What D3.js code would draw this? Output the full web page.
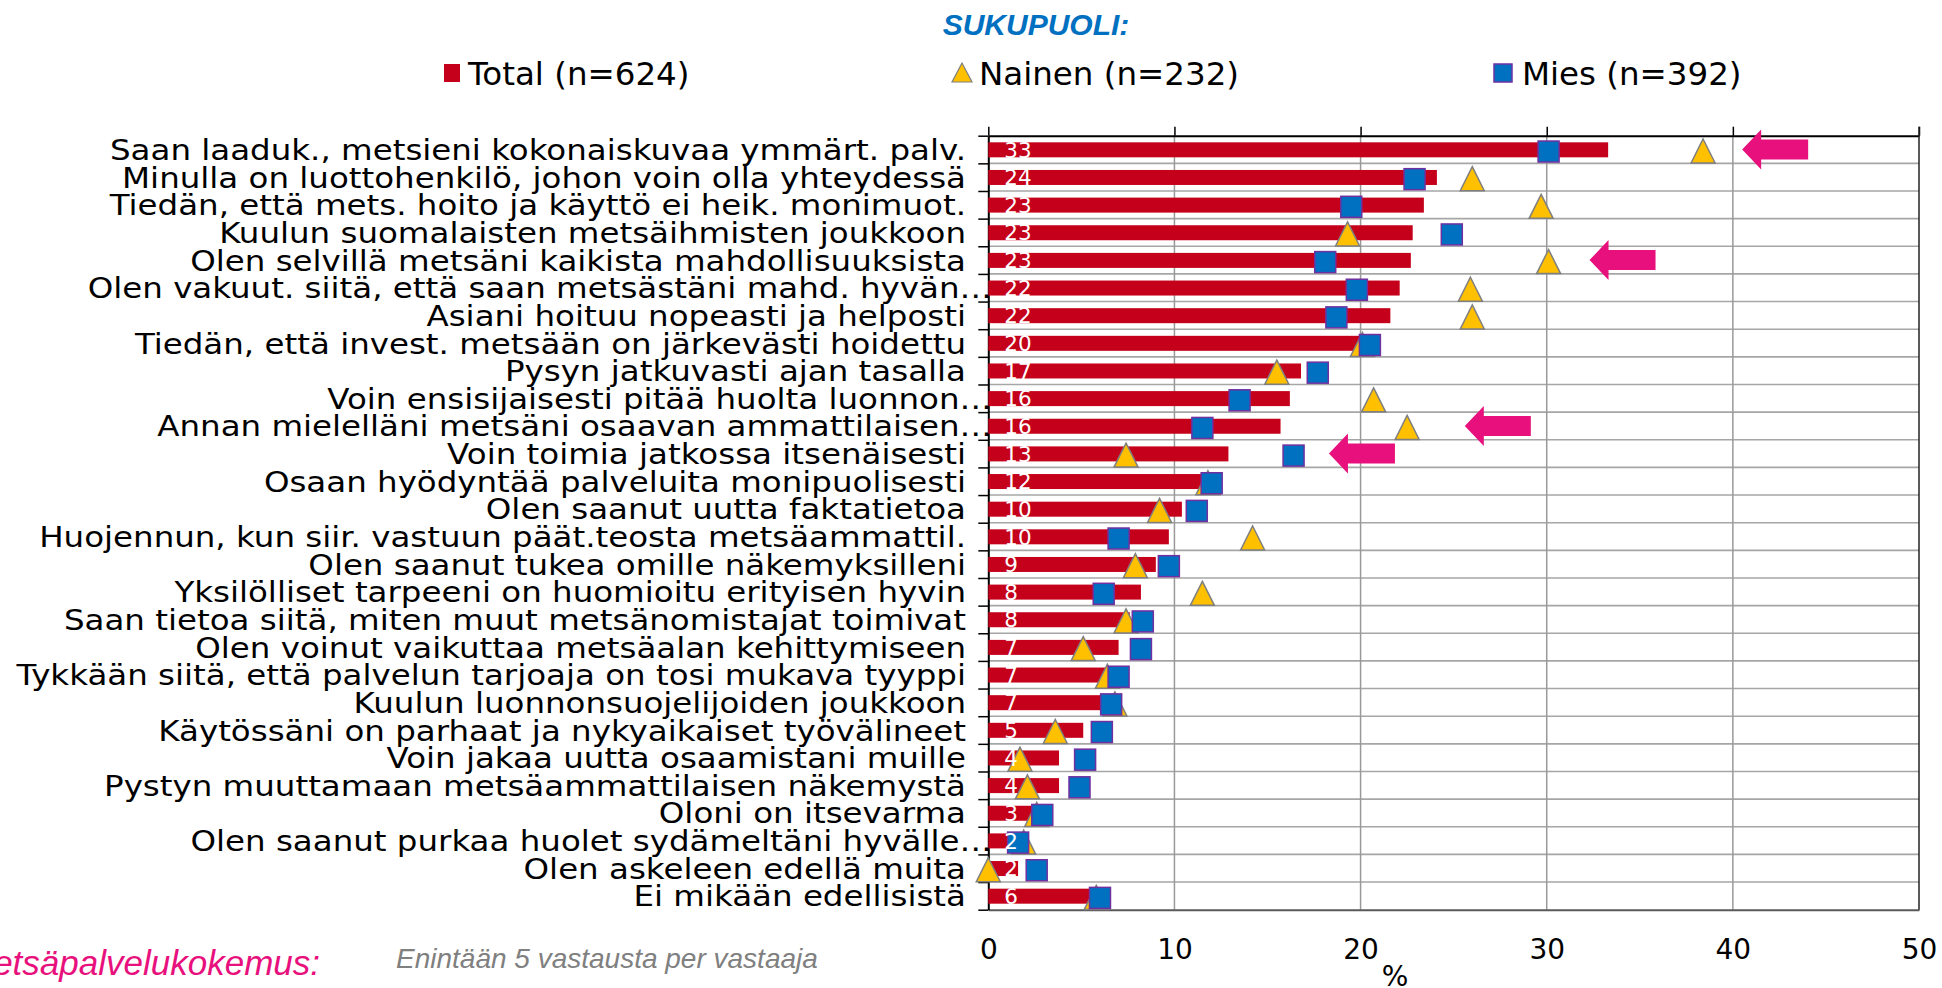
<!DOCTYPE html>
<html lang="fi">
<head>
<meta charset="utf-8">
<title>Sukupuoli</title>
<script src="https://cdn.jsdelivr.net/npm/d3@7"></script>
<style>
  body { margin: 0; background: #fff; }
  text { font-family: Verdana, "DejaVu Sans", sans-serif; }
</style>
</head>
<body>
<script>
// categories top to bottom
var categories = [
  "Saan laaduk., metsieni kokonaiskuvaa ymmärt. palv.",
  "Minulla on luottohenkilö, johon voin olla yhteydessä",
  "Tiedän, että mets. hoito ja käyttö ei heik. monimuot.",
  "Kuulun suomalaisten metsäihmisten joukkoon",
  "Olen selvillä metsäni kaikista mahdollisuuksista",
  "Olen vakuut. siitä, että saan metsästäni mahd. hyvän…",
  "Asiani hoituu nopeasti ja helposti",
  "Tiedän, että invest. metsään on järkevästi hoidettu",
  "Pysyn jatkuvasti ajan tasalla",
  "Voin ensisijaisesti pitää huolta luonnon…",
  "Annan mielelläni metsäni osaavan ammattilaisen…",
  "Voin toimia jatkossa itsenäisesti",
  "Osaan hyödyntää palveluita monipuolisesti",
  "Olen saanut uutta faktatietoa",
  "Huojennun, kun siir. vastuun päät.teosta metsäammattil.",
  "Olen saanut tukea omille näkemyksilleni",
  "Yksilölliset tarpeeni on huomioitu erityisen hyvin",
  "Saan tietoa siitä, miten muut metsänomistajat toimivat",
  "Olen voinut vaikuttaa metsäalan kehittymiseen",
  "Tykkään siitä, että palvelun tarjoaja on tosi mukava tyyppi",
  "Kuulun luonnonsuojelijoiden joukkoon",
  "Käytössäni on parhaat ja nykyaikaiset työvälineet",
  "Voin jakaa uutta osaamistani muille",
  "Pystyn muuttamaan metsäammattilaisen näkemystä",
  "Oloni on itsevarma",
  "Olen saanut purkaa huolet sydämeltäni hyvälle…",
  "Olen askeleen edellä muita",
  "Ei mikään edellisistä"
];

// Total (n=624), %
var total = [33.3, 24.1, 23.4, 22.8, 22.7, 22.1, 21.6, 20.0, 16.8, 16.2, 15.7, 12.9, 11.6, 10.4,
             9.7, 9.0, 8.2, 7.6, 7.0, 6.7, 6.6, 5.1, 3.8, 3.8, 2.6, 1.9, 1.6, 5.6];
// Nainen (n=232), %
var nainen = [38.4, 26.0, 29.7, 19.3, 30.1, 25.9, 26.0, 20.1, 15.5, 20.7, 22.5, 7.4, 11.8, 9.2,
              14.2, 7.9, 11.5, 7.4, 5.1, 6.4, 6.8, 3.6, 1.7, 2.1, 2.6, 1.9, 0.0, 5.8];
// Mies (n=392), %
var mies = [30.1, 22.9, 19.5, 24.9, 18.1, 19.8, 18.7, 20.5, 17.7, 13.5, 11.5, 16.4, 12.0, 11.2,
            7.0, 9.7, 6.2, 8.3, 8.2, 7.0, 6.6, 6.1, 5.2, 4.9, 2.9, 1.6, 2.6, 6.0];

var xTicks = [0, 10, 20, 30, 40, 50];
var legendLabels = ["Total (n=624)", "Nainen (n=232)", "Mies (n=392)"];

// highlight arrows: row index and the value where the arrow tip points
var arrowRows = [0, 4, 10, 11];
var arrowTips = [40.5, 32.3, 25.6, 18.3];

var w = 1942, h = 988;
var red = "#c5001a", gold = "#ffc000", blue = "#0070c0", pink = "#e8107c";

var svg = d3.select("body").append("svg").attr("width", w).attr("height", h);

var x = d3.scaleLinear().domain([0, 50]).range([988.3, 1919]);
var y = d3.scaleBand().domain(d3.range(categories.length)).range([135.7, 909.7]);
var yEdge = d3.scaleLinear().domain([0, categories.length]).range([135.7, 909.7]);
var plotTop = yEdge(0), plotBottom = yEdge(categories.length);

// horizontal gridlines between rows
svg.append("g").selectAll("line")
  .data(d3.range(1, categories.length))
  .enter().append("line")
  .attr("x1", x(0)).attr("x2", x(50))
  .attr("y1", d => yEdge(d)).attr("y2", d => yEdge(d))
  .attr("stroke", "#a6a6a6").attr("stroke-width", 1.6);

// vertical gridlines
svg.append("g").selectAll("line")
  .data(xTicks.slice(1, -1))
  .enter().append("line")
  .attr("x1", d => x(d)).attr("x2", d => x(d))
  .attr("y1", plotTop).attr("y2", plotBottom)
  .attr("stroke", "#999").attr("stroke-width", 1.5);

// top axis (ticks up, no labels)
var topAxis = svg.append("g").attr("transform", "translate(0," + plotTop + ")")
  .call(d3.axisTop(x).tickValues(xTicks).tickSize(9).tickSizeOuter(0).tickFormat(""));
topAxis.select(".domain").attr("stroke", "#000").attr("stroke-width", 2);
topAxis.selectAll(".tick line").attr("stroke", "#000").attr("stroke-width", 1.5);

// bottom axis labels
var botAxis = svg.append("g").attr("transform", "translate(0," + plotBottom + ")")
  .call(d3.axisBottom(x).tickValues(xTicks).tickSize(0).tickPadding(29));
botAxis.select(".domain").attr("stroke", "#595959").attr("stroke-width", 2);
botAxis.selectAll("text").attr("font-size", 28).attr("fill", "#000")
  .style("font-family", "Verdana, 'DejaVu Sans', sans-serif");

// right border
svg.append("line").attr("x1", x(50)).attr("x2", x(50)).attr("y1", plotTop - 9).attr("y2", plotBottom)
  .attr("stroke", "#222").attr("stroke-width", 1.5);

// left axis with ticks at row edges
var leftAxis = svg.append("g").attr("transform", "translate(" + x(0) + ",0)")
  .call(d3.axisLeft(yEdge).tickValues(d3.range(categories.length + 1)).tickSize(10).tickSizeOuter(0).tickFormat(""));
leftAxis.select(".domain").attr("stroke", "#000").attr("stroke-width", 2);
leftAxis.selectAll(".tick line").attr("stroke", "#000").attr("stroke-width", 1.5);

// category labels
svg.append("g").selectAll("text")
  .data(categories)
  .enter().append("text")
  .attr("transform", (d, i) => "translate(" + (d.endsWith("…") ? 992 : 966) + "," + (y(i) + y.bandwidth() / 2 + 10.5) + ") scale(1.16,1)")
  .attr("text-anchor", "end")
  .attr("font-size", 28)
  .attr("fill", "#000")
  .text(d => d);

// Total bars
var barH = 15;
svg.append("g").selectAll("rect")
  .data(total)
  .enter().append("rect")
  .attr("x", x(0))
  .attr("y", (d, i) => y(i) + y.bandwidth() / 2 - barH / 2 + 0.3)
  .attr("width", d => x(d) - x(0))
  .attr("height", barH)
  .attr("fill", red);

// Nainen triangles
var tr = 12;
svg.append("g").selectAll("path")
  .data(nainen)
  .enter().append("path")
  .attr("d", (d, i) => {
    var cx = x(d), cy = y(i) + y.bandwidth() / 2 + 1.5;
    return "M" + cx + "," + (cy - tr) + "L" + (cx + tr) + "," + (cy + tr) + "L" + (cx - tr) + "," + (cy + tr) + "Z";
  })
  .attr("fill", gold).attr("stroke", "#7f7f7f").attr("stroke-width", 1.5);

// Mies squares
var sq = 21;
svg.append("g").selectAll("rect")
  .data(mies)
  .enter().append("rect")
  .attr("x", d => x(d) - sq / 2)
  .attr("y", (d, i) => y(i) + y.bandwidth() / 2 - sq / 2 + 2)
  .attr("width", sq).attr("height", sq)
  .attr("fill", blue).attr("stroke", "#7030a0").attr("stroke-width", 1.5);

// value labels for total
svg.append("g").selectAll("text")
  .data(total)
  .enter().append("text")
  .attr("x", x(0) + 16)
  .attr("y", (d, i) => y(i) + y.bandwidth() / 2 + 8)
  .attr("font-size", 21.5)
  .attr("fill", "#fff")
  .text(d => Math.round(d));

// pink arrows
svg.append("g").selectAll("path")
  .data(arrowRows)
  .enter().append("path")
  .attr("d", (r, i) => {
    var tx = x(arrowTips[i]), cy = y(r) + y.bandwidth() / 2;
    return "M" + tx + "," + cy +
      "L" + (tx + 19) + "," + (cy - 20) +
      "L" + (tx + 19) + "," + (cy - 10) +
      "L" + (tx + 66) + "," + (cy - 10) +
      "L" + (tx + 66) + "," + (cy + 10) +
      "L" + (tx + 19) + "," + (cy + 10) +
      "L" + (tx + 19) + "," + (cy + 20) + "Z";
  })
  .attr("fill", pink);

// "%" axis title
svg.append("text").attr("x", 1395).attr("y", 986).attr("text-anchor", "middle")
  .attr("font-size", 28).attr("fill", "#000").text("%");

// title
svg.append("text").attr("x", 1036).attr("y", 35).attr("text-anchor", "middle")
  .style("font-family", "'Liberation Sans', Arial, sans-serif")
  .attr("font-size", 30).attr("font-weight", "bold").attr("font-style", "italic")
  .attr("fill", blue).text("SUKUPUOLI:");

// legend
var legendX = [468, 979, 1522];
var legend = svg.append("g");
legend.selectAll("text")
  .data(legendLabels)
  .enter().append("text")
  .attr("x", (d, i) => legendX[i]).attr("y", 85)
  .attr("font-size", 32.5).attr("fill", "#000")
  .text(d => d);
legend.append("rect").attr("x", 444).attr("y", 64).attr("width", 16).attr("height", 18).attr("fill", red);
legend.append("path").attr("d", "M962,63L972,82L952,82Z")
  .attr("fill", gold).attr("stroke", "#7f7f7f").attr("stroke-width", 1.2);
legend.append("rect").attr("x", 1494).attr("y", 64).attr("width", 18).attr("height", 18)
  .attr("fill", blue).attr("stroke", "#7030a0").attr("stroke-width", 1.5);

// bottom notes
svg.append("text").attr("x", 320).attr("y", 975).attr("text-anchor", "end")
  .style("font-family", "'Liberation Sans', Arial, sans-serif")
  .attr("font-size", 35).attr("font-style", "italic").attr("fill", pink)
  .text("Metsäpalvelukokemus:");
svg.append("text").attr("x", 396).attr("y", 968)
  .style("font-family", "'Liberation Sans', Arial, sans-serif")
  .attr("font-size", 28).attr("font-style", "italic").attr("fill", "#808080")
  .text("Enintään 5 vastausta per vastaaja");
</script>
</body>
</html>
